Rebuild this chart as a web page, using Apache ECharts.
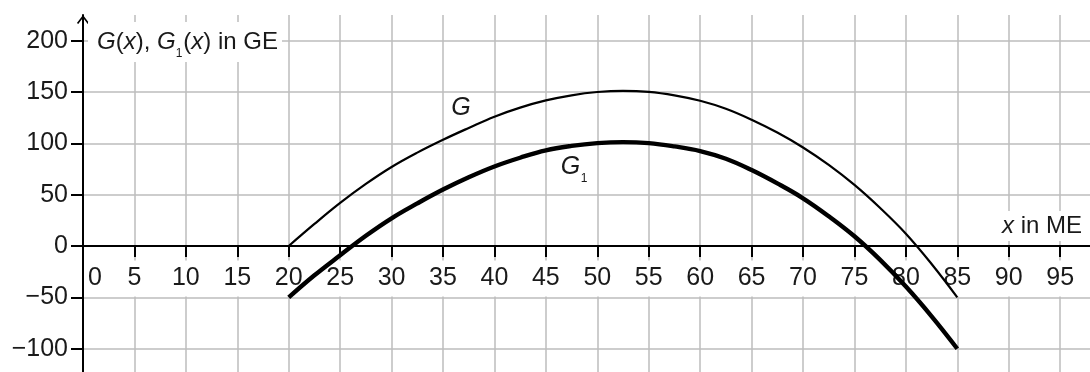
<!DOCTYPE html>
<html>
<head>
<meta charset="utf-8">
<script src="https://cdn.jsdelivr.net/npm/echarts@6/dist/echarts.min.js"></script>
<style>
html,body{margin:0;padding:0;background:#fff}
#c{width:1090px;height:372px}
</style>
</head>
<body>
<div id="c"></div>
<script>
// ---- data ----
const xValues  = [20, 22.5, 25, 27.5, 30, 32.5, 35, 37.5, 40, 42.5, 45, 47.5, 50, 52.5, 55, 57.5, 60, 62.5, 65, 67.5, 70, 72.5, 75, 77.5, 80, 82.5, 85];
const gValues  = [0, 21.5, 42, 60.5, 77, 91, 103.5, 115, 126, 134.8, 141.8, 146.8, 150, 151.2, 150.2, 146.8, 141.5, 133.7, 123, 110.5, 96, 79, 59.5, 37, 12, -17.5, -50];
const g1Values = [-50, -28.5, -9, 10, 27, 41.5, 55, 67, 77.5, 86, 93.2, 97.5, 100.2, 101.2, 100.2, 97, 92.5, 85, 74, 61, 46.5, 29, 9.5, -13.5, -39.5, -68.5, -100];
const xTickValues  = [5, 10, 15, 20, 25, 30, 35, 40, 45, 50, 55, 60, 65, 70, 75, 80, 85, 90, 95];
const xLabelValues = [0, 5, 10, 15, 20, 25, 30, 35, 40, 45, 50, 55, 60, 65, 70, 75, 80, 85, 90, 95];
const yTickValues  = [-100, -50, 0, 50, 100, 150, 200];
const xRange = [0, 97.9];
const yRange = [-125, 225];
const yGridRange = [-150, 250];
const yTitle = '{i|G}({i|x}), {i|G}{s|1}({i|x}) in GE';
const xTitle = '{i|x} in ME';

// ---- chart ----
const FONT = 'Liberation Sans';
const TXT = '#1a1a1a';
const GRID_C = '#bdbdbd';
const FS = 25;

const gData = xValues.map((x, i) => [x, gValues[i]]);
const g1Data = xValues.map((x, i) => [x, g1Values[i]]);

// layout (pixels)
const GRID_TOP = 15, GRID_BOTTOM = -2.4, H = 372;
const plotH = H - GRID_TOP - GRID_BOTTOM;
const zeroPy = GRID_TOP + (yRange[1] - 0) / (yRange[1] - yRange[0]) * plotH;
const xAxisOffset = -((H - GRID_BOTTOM) - zeroPy);

const chart = echarts.init(document.getElementById('c'), null, {renderer: 'canvas'});
const option = {
  animation: false,
  backgroundColor: '#fff',
  textStyle: {fontFamily: FONT},
  grid: [
    {left: 83, right: 0, top: GRID_TOP, bottom: GRID_BOTTOM, outerBoundsMode: 'none', containLabel: false},
    {left: 83, right: 0, top: -10.67, bottom: -28.07, outerBoundsMode: 'none', containLabel: false}
  ],
  xAxis: [
    {
      type: 'value', gridIndex: 0, min: xRange[0], max: xRange[1], z: 1,
      position: 'bottom', offset: xAxisOffset,
      axisLine: {show: true, onZero: false, lineStyle: {color: '#000', width: 2}},
      axisTick: {show: true, customValues: xTickValues, length: 11, lineStyle: {color: '#000', width: 2}},
      axisLabel: {
        show: true, customValues: xLabelValues, margin: 14.5, fontSize: FS, color: TXT,
        hideOverlap: false,
        formatter: v => v === 0 ? '{z|0}' : '{n|' + v + '}',
        rich: {
          z: {fontSize: FS, color: TXT, fontFamily: FONT, padding: [5, 0, 6, 24]},
          n: {fontSize: FS, color: TXT, fontFamily: FONT, backgroundColor: '#fff', padding: [5, 4, 6, 4]}
        }
      },
      splitLine: {show: false}
    },
    {
      type: 'value', gridIndex: 0, min: xRange[0], max: xRange[1], interval: 5, z: 0,
      axisLine: {show: false, onZero: false}, axisTick: {show: false}, axisLabel: {show: false},
      splitLine: {show: true, showMinLine: false, showMaxLine: false, lineStyle: {color: GRID_C, width: 1.5}}
    },
    {
      type: 'value', gridIndex: 1, min: xRange[0], max: xRange[1], show: false
    }
  ],
  yAxis: [
    {
      type: 'value', gridIndex: 0, min: yRange[0], max: yRange[1], z: 1,
      position: 'left',
      axisLine: {
        show: true, onZero: false,
        symbol: ['none', 'path://M0,8 L6,0 L12,8 L10.7,8.9 L6,2.6 L1.3,8.9 Z'],
        symbolSize: [13, 9], symbolOffset: [0, -4.5],
        lineStyle: {color: '#000', width: 2}
      },
      axisTick: {show: true, customValues: yTickValues, length: 12, lineStyle: {color: '#000', width: 2}},
      axisLabel: {
        show: true, customValues: yTickValues, margin: 15, fontSize: FS, color: TXT,
        hideOverlap: false,
        formatter: v => String(v).replace('-', '\u2212')
      },
      splitLine: {show: false}
    },
    {
      type: 'value', gridIndex: 1, min: yGridRange[0], max: yGridRange[1], interval: 50, z: 0,
      axisLine: {show: false, onZero: false}, axisTick: {show: false}, axisLabel: {show: false},
      splitLine: {show: true, showMinLine: false, showMaxLine: false, lineStyle: {color: GRID_C, width: 1.5}}
    }
  ],
  series: [
    {
      name: 'G', type: 'line', xAxisIndex: 0, yAxisIndex: 0, data: gData,
      smooth: 0.4, showSymbol: false, z: 3,
      lineStyle: {color: '#000', width: 2.2}
    },
    {
      name: 'G1', type: 'line', xAxisIndex: 0, yAxisIndex: 0, data: g1Data,
      smooth: 0.4, showSymbol: false, z: 3,
      lineStyle: {color: '#000', width: 4.4}
    }
  ],
  graphic: [
    {
      type: 'text', z: 100, x: 88, y: 42,
      style: {
        text: yTitle, fill: TXT, fontFamily: FONT, fontSize: 24, lineHeight: 36,
        textAlign: 'left', textVerticalAlign: 'middle',
        backgroundColor: '#fff', padding: [2, 4, 2, 9],
        rich: {
          i: {fontStyle: 'italic', fontSize: 24, fontFamily: FONT, fill: TXT, lineHeight: 36},
          s: {fontSize: 12, fontFamily: FONT, fill: TXT, lineHeight: 12, padding: [24, 1, 0, 0]}
        }
      }
    },
    {
      type: 'text', z: 100, x: 1086, y: 226,
      style: {
        text: xTitle, fill: TXT, fontFamily: FONT, fontSize: 24,
        textAlign: 'right', textVerticalAlign: 'middle',
        backgroundColor: '#fff', padding: [3, 4, 3, 6],
        rich: {
          i: {fontStyle: 'italic', fontSize: 24, fontFamily: FONT, fill: TXT}
        }
      }
    },
    {
      type: 'text', z: 100, x: 461, y: 108,
      style: {text: 'G', fill: TXT, fontFamily: FONT, fontSize: FS, fontStyle: 'italic',
              textAlign: 'center', textVerticalAlign: 'middle'}
    },
    {
      type: 'text', z: 100, x: 570.5, y: 166.7,
      style: {text: 'G', fill: TXT, fontFamily: FONT, fontSize: FS, fontStyle: 'italic',
              textAlign: 'center', textVerticalAlign: 'middle'}
    },
    {
      type: 'text', z: 100, x: 584, y: 179,
      style: {text: '1', fill: TXT, fontFamily: FONT, fontSize: 12,
              textAlign: 'center', textVerticalAlign: 'middle'}
    }
  ]
};
chart.setOption(option);
</script>
</body>
</html>
